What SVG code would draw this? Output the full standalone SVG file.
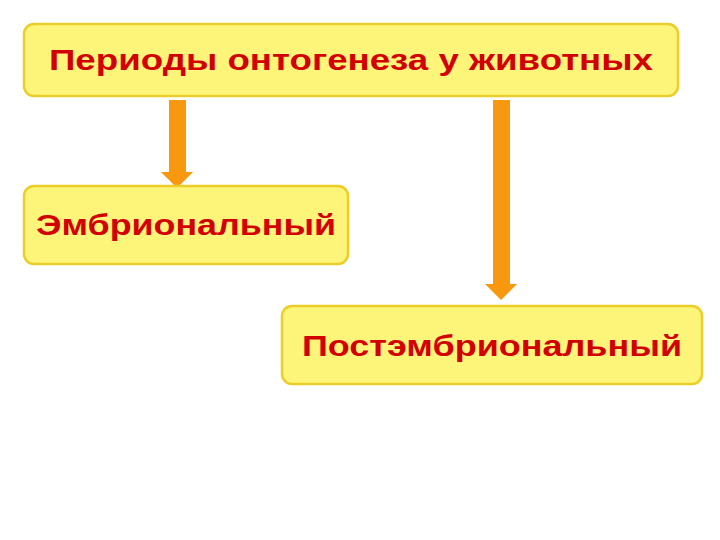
<svg xmlns="http://www.w3.org/2000/svg" width="720" height="540" viewBox="0 0 720 540">
<style>
.box{fill:#fdf57a;stroke:#eccd2a;stroke-width:2.5}
.t{font-family:"Liberation Sans",Arial,sans-serif;font-weight:bold;font-size:29px;fill:#d20000;text-anchor:middle}
.arr{fill:#f7980f}
</style>
<rect width="720" height="540" fill="#fff"/>
<g id="connectors">
<polygon class="arr" points="169,100 186,100 186,172 193,172 177,188 161,172 169,172"/>
<polygon class="arr" points="493,100 510,100 510,284 517,284 501,300 485,284 493,284"/>
</g>
<g id="top"><rect class="box" x="24" y="24" width="654" height="72" rx="10"/><text class="t" x="351" y="70" textLength="604" lengthAdjust="spacingAndGlyphs">Периоды онтогенеза у животных</text></g>
<g id="embr"><rect class="box" x="24" y="186" width="324" height="78" rx="10"/><text class="t" x="186" y="235" textLength="300" lengthAdjust="spacingAndGlyphs">Эмбриональный</text></g>
<g id="post"><rect class="box" x="282" y="306" width="420" height="78" rx="10"/><text class="t" x="492" y="356" textLength="380" lengthAdjust="spacingAndGlyphs">Постэмбриональный</text></g>
</svg>
